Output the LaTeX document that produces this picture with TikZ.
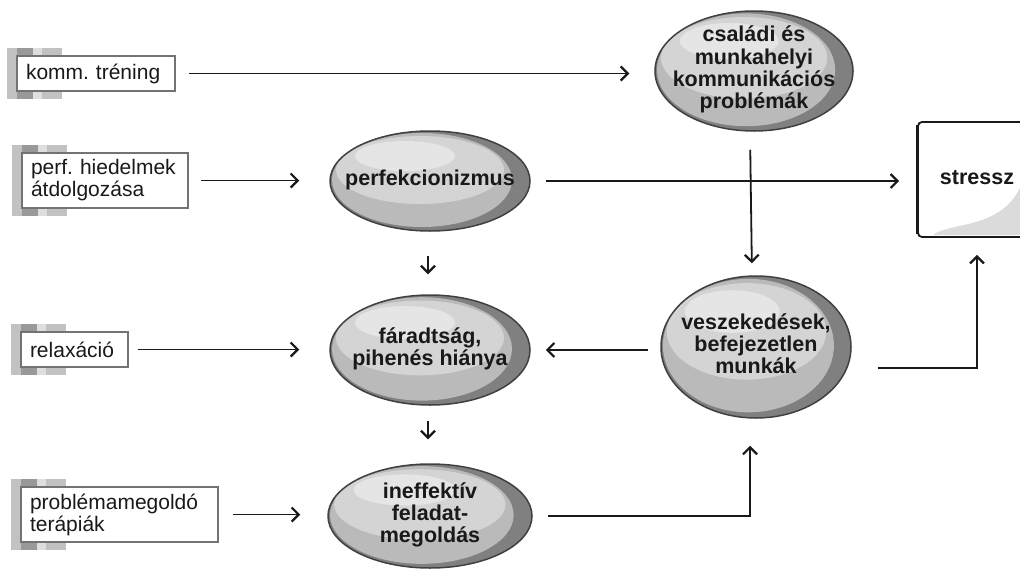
\documentclass[tikz,border=0pt]{standalone}
\usepackage{fontspec}
\setmainfont{Liberation Sans}
\frenchspacing
\usetikzlibrary{shapes.geometric,arrows.meta,calc}
\definecolor{stA}{gray}{0.76}
\definecolor{stB}{gray}{0.6}
\definecolor{stC}{gray}{0.87}
\definecolor{ink}{gray}{0.1}
\definecolor{elRim}{gray}{0.5}
\definecolor{elMid}{gray}{0.73}
\definecolor{elLight}{gray}{0.83}
\definecolor{elHigh}{gray}{0.9}
\definecolor{boxLine}{gray}{0.45}
\definecolor{shadowC}{gray}{0.86}
\tikzset{
  lbox/.style={rectangle, draw=boxLine, line width=1.2pt, fill=white, align=left,
    inner xsep=9pt, inner ysep=0pt, text=ink},
  enode/.style={ellipse, draw=black!75, line width=1.5pt, inner sep=0pt,
    font=\bfseries\fontsize{21.5}{22}\selectfont, text=ink},
  sbox/.style={rectangle, rounded corners=4pt, draw=ink, line width=1.8pt, fill=white,
    font=\bfseries\fontsize{21.5}{22}\selectfont, text=ink},
  arr/.style={draw=ink, line width=1.8pt, -{Straight Barb[length=7pt,width=14pt,line width=2.2pt]}}
}
% name, x left, y top, width, height, text width, text
\newcommand\lbox[7]{%
  \fill[stA] (#2-10,#3-8) rectangle ++(55,#5+16);
  \fill[stB] (#2,#3-8) rectangle ++(16,#5+16);
  \fill[stC] (#2+16,#3-8) rectangle ++(9,#5+16);
  \fill[stA] (#2+25,#3-8) rectangle ++(20,#5+16);
  \node[lbox, minimum width=#4pt, minimum height=#5pt, text width=#6pt] (#1) at (#2+#4/2,#3+#5/2) {#7};
}
\newcommand\ctext[1]{\smash{\makebox[0pt]{\raisebox{-5pt}{\begin{tabular}{@{}c@{}}#1\end{tabular}}}}}
% name, cx, cy, rx, ry, text
\newcommand\enode[6]{%
  \fill[elRim] (#2,#3) ellipse ({#4} and {#5});
  \begin{scope}
    \clip (#2,#3) ellipse ({#4} and {#5});
    \fill[elMid] ({#2-0.08*#4},{#3-0.02*#5}) ellipse ({0.9*#4} and {0.94*#5});
    \fill[elLight] ({#2-0.1*#4},{#3-0.22*#5}) ellipse ({0.84*#4} and {0.68*#5});
    \fill[elHigh] ({#2-0.25*#4},{#3-0.5*#5}) ellipse ({0.5*#4} and {0.3*#5});
  \end{scope}
  \node[enode, minimum width={2*#4*1pt}, minimum height={2*#5*1pt}] (#1) at (#2,#3) {\ctext{#6}};
}
\begin{document}
\begin{tikzpicture}[x=1pt,y=-1pt,font=\fontsize{21}{22}\selectfont]
\useasboundingbox (0,0) rectangle (1020,568);

% left boxes
\lbox{komm}{17}{56}{158}{35}{140}{komm. tréning}
\lbox{perf}{22}{153}{166}{55}{148}{perf. hiedelmek\\átdolgozása}
\lbox{relax}{21}{332}{107}{35}{89}{relaxáció}
\lbox{prob}{21}{487}{197}{55}{179}{problémamegoldó\\terápiák}

% ellipses
\enode{csal}{754}{71}{99}{60}{családi és\\munkahelyi\\kommunikációs\\problémák}
\enode{perfek}{430}{181}{100}{50}{perfekcionizmus}
\enode{farad}{430}{350}{100}{55}{fáradtság,\\pihenés hiánya}
\enode{ineff}{430}{516}{102}{52}{ineffektív\\feladat-\\megoldás}
\enode{vesz}{756}{347}{95}{71}{veszekedések,\\befejezetlen\\munkák}

% stressz box
\node[sbox, minimum width=118pt, minimum height=115pt] (stressz) at (977,179.5) {\raisebox{5pt}{stressz}};
\fill[shadowC] (934,234) .. controls (955,222) and (1000,228) .. (1020,188) -- (1020,235) -- (934,235) -- cycle;
\draw[ink, line width=3pt] ([yshift=-4pt]stressz.north west) -- ([yshift=4pt]stressz.south west);

% connectors
\draw[arr, shorten <=13pt, shorten >=25pt] (komm.east) -- (komm.east -| csal.west);
\draw[arr, shorten <=12pt, shorten >=30pt] (perf.east) -- (perf.east -| perfek.west);
\draw[arr, shorten <=15pt, shorten >=18pt] (perfek.east) -- (perfek.east -| stressz.west);
\draw[arr, shorten <=9pt, shorten >=30pt] (relax.east) -- (relax.east -| farad.west);
\draw[arr, shorten <=12pt, shorten >=15pt] (farad.east -| vesz.west) -- (farad.east);
\draw[arr, shorten <=24pt, shorten >=20pt] ([xshift=-2pt]perfek.south) -- ([xshift=-2pt]farad.north);
\draw[arr, shorten <=15pt, shorten >=24pt] ([xshift=-2pt]farad.south) -- ([xshift=-2pt]ineff.north);
\draw[arr, shorten <=14pt, shorten >=27pt] (prob.east) -- (prob.east -| ineff.west);
\draw[arr] ([xshift=15pt]ineff.east) -| ([xshift=-6pt,yshift=-27pt]vesz.south);
\draw[arr, shorten <=18pt, shorten >=12pt] ([xshift=-4pt]csal.south) -- ([xshift=-4pt]vesz.north);
\draw[arr] ([xshift=26pt,yshift=-21pt]vesz.east) -| ([yshift=-17pt]stressz.south);
\end{tikzpicture}
\end{document}
